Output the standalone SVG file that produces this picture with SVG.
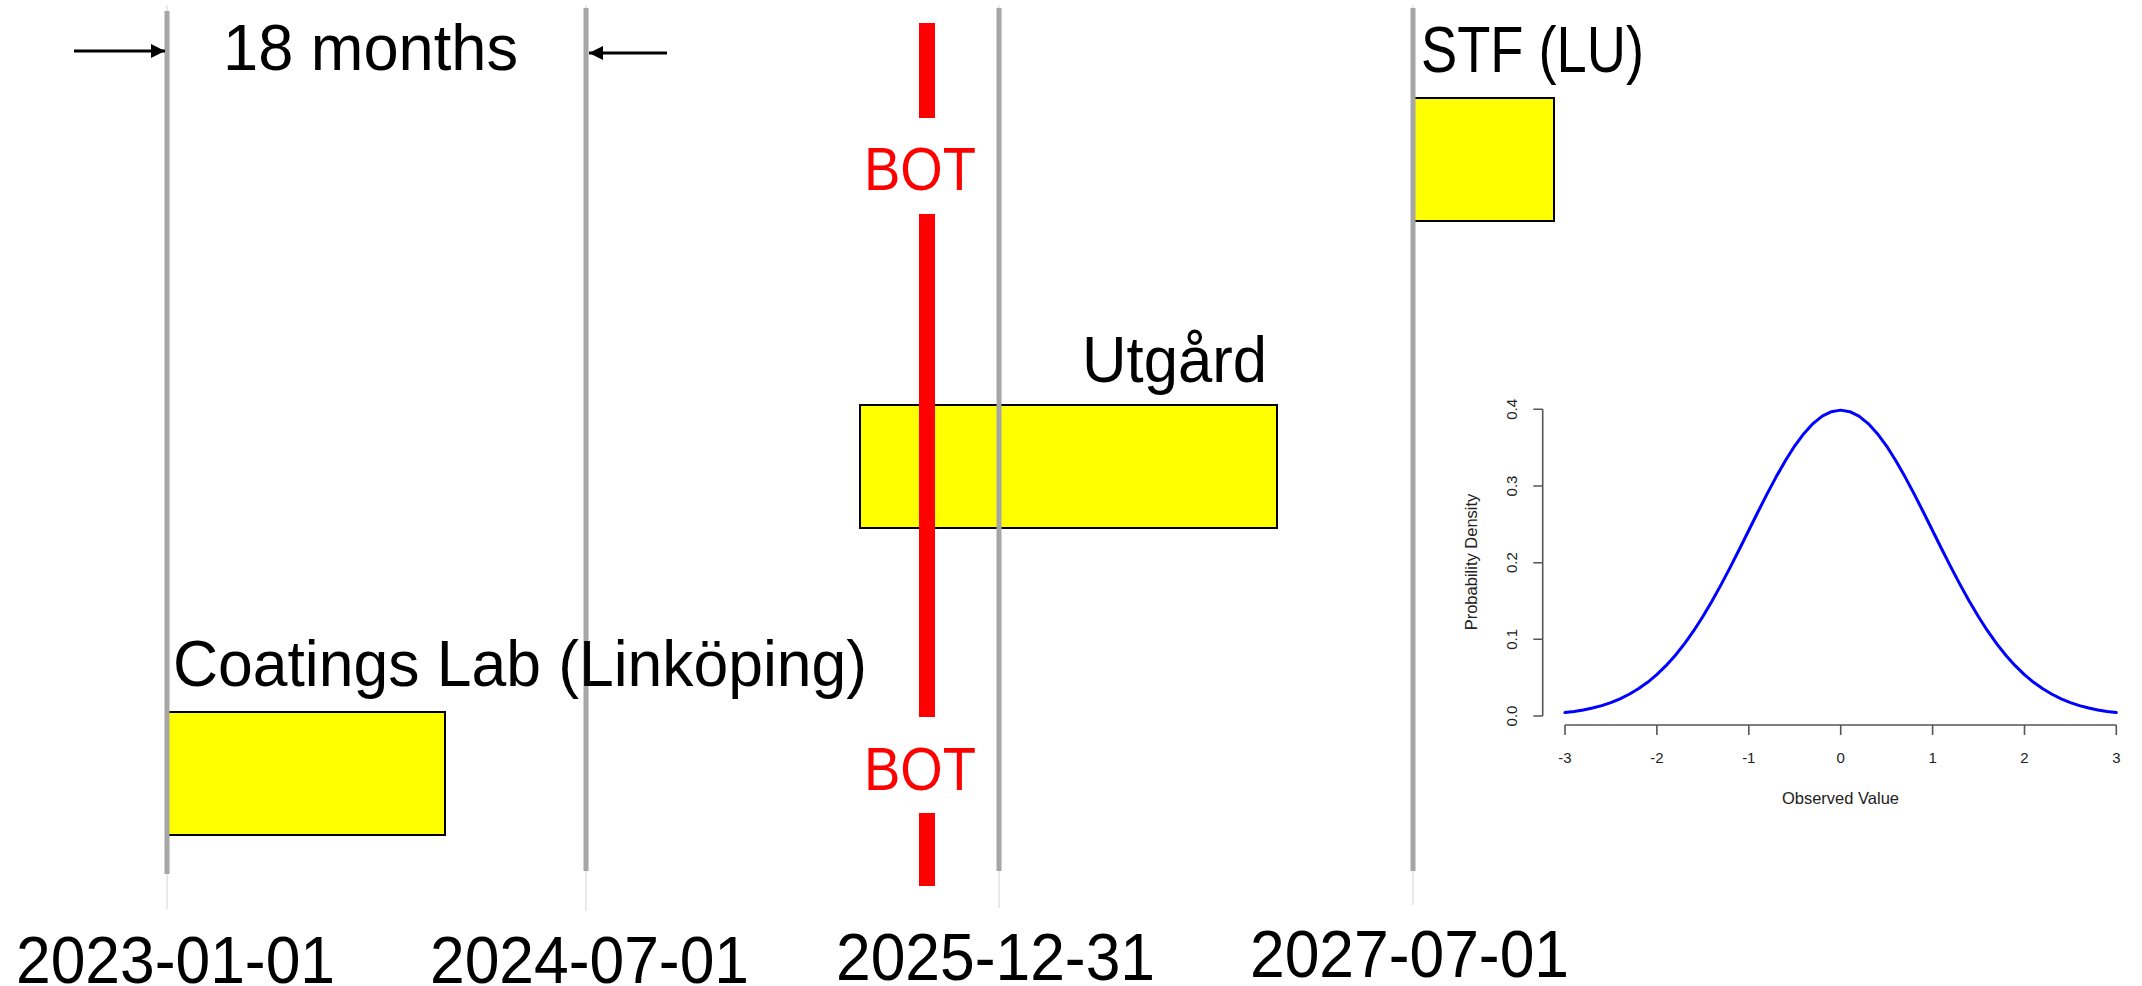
<svg xmlns="http://www.w3.org/2000/svg" width="2142" height="986" viewBox="0 0 2142 986">
<defs>
<style>
.lbl{font-family:"Liberation Sans",Arial,sans-serif;font-size:64px;fill:#000}
.date{font-family:"Liberation Sans",Arial,sans-serif;font-size:66px;fill:#000}
.bot{font-family:"Liberation Sans",Arial,sans-serif;font-size:62px;fill:#FF0000}
.box{fill:#FFFF00;stroke:#000;stroke-width:2}
.gl{stroke:#A6A6A6;stroke-width:5}
.thin{stroke:#DADADA;stroke-width:1.2}
.red{stroke:#FF0000;stroke-width:16}
.ax{stroke:#555;stroke-width:1.6;fill:none}
.tick{font-family:"Liberation Sans",Arial,sans-serif;font-size:15px;fill:#222}
.axl{font-family:"Liberation Sans",Arial,sans-serif;font-size:16.5px;fill:#222}
.arr{stroke:#000;stroke-width:3}
</style>
<marker id="ah" markerUnits="userSpaceOnUse" markerWidth="15" markerHeight="15" refX="14" refY="7" orient="auto">
<path d="M0,0 L14,7 L0,14 z" fill="#000"/>
</marker>
</defs>
<rect width="2142" height="986" fill="#fff"/>

<g id="boxes">
<g id="coatings-box"><rect class="box" x="168" y="712" width="277" height="123"/></g>
<g id="utgard-box"><rect class="box" x="860" y="405" width="417" height="123"/></g>
<g id="stf-box"><rect class="box" x="1414" y="98" width="140" height="123"/></g>
</g>

<g id="timeline-lines">
<line class="thin" x1="167" y1="5" x2="167" y2="909"/>
<line class="thin" x1="586" y1="5" x2="586" y2="911"/>
<line class="thin" x1="999" y1="5" x2="999" y2="908"/>
<line class="thin" x1="1413" y1="5" x2="1413" y2="905"/>
<line class="gl" x1="167" y1="11" x2="167" y2="874"/>
<line class="gl" x1="586" y1="8" x2="586" y2="871"/>
<line class="gl" x1="999" y1="8" x2="999" y2="871"/>
<line class="gl" x1="1413" y1="8" x2="1413" y2="871"/>
</g>

<g id="bot-line">
<line class="red" x1="927" y1="23" x2="927" y2="118"/>
<line class="red" x1="927" y1="214" x2="927" y2="717"/>
<line class="red" x1="927" y1="813" x2="927" y2="886"/>
<text class="bot" x="864" y="190" textLength="112" lengthAdjust="spacingAndGlyphs">BOT</text>
<text class="bot" x="864" y="790" textLength="112" lengthAdjust="spacingAndGlyphs">BOT</text>
</g>

<g id="coatings"><text class="lbl" x="173" y="686" textLength="694" lengthAdjust="spacingAndGlyphs">Coatings Lab (Linköping)</text></g>
<g id="utgard"><text class="lbl" x="1082" y="382" textLength="185" lengthAdjust="spacingAndGlyphs">Utgård</text></g>
<g id="stf"><text class="lbl" x="1421" y="72" textLength="223" lengthAdjust="spacingAndGlyphs">STF (LU)</text></g>
<g id="span-label"><text class="lbl" x="223" y="70" textLength="295" lengthAdjust="spacingAndGlyphs">18 months</text></g>

<g id="connectors">
<line class="arr" x1="74" y1="51" x2="165" y2="51" marker-end="url(#ah)"/>
<line class="arr" x1="667" y1="53" x2="589" y2="53" marker-end="url(#ah)"/>
</g>

<g id="dates">
<text class="date" x="16" y="983" textLength="319" lengthAdjust="spacingAndGlyphs">2023-01-01</text>
<text class="date" x="430" y="983" textLength="319" lengthAdjust="spacingAndGlyphs">2024-07-01</text>
<text class="date" x="836" y="980" textLength="319" lengthAdjust="spacingAndGlyphs">2025-12-31</text>
<text class="date" x="1250" y="977" textLength="319" lengthAdjust="spacingAndGlyphs">2027-07-01</text>
</g>

<g id="plot">
<path class="ax" d="M1542.7,409.3 V716 M1533.3,409.3 H1542.7 M1533.3,486 H1542.7 M1533.3,562.7 H1542.7 M1533.3,639.3 H1542.7 M1533.3,716 H1542.7"/>
<path class="ax" d="M1565,725 H2116.3 M1565,725 V735 M1656.9,725 V735 M1748.8,725 V735 M1840.7,725 V735 M1932.6,725 V735 M2024.5,725 V735 M2116.3,725 V735"/>
<g class="tick" text-anchor="middle">
<text transform="translate(1517,716) rotate(-90)">0.0</text>
<text transform="translate(1517,639.3) rotate(-90)">0.1</text>
<text transform="translate(1517,562.7) rotate(-90)">0.2</text>
<text transform="translate(1517,486) rotate(-90)">0.3</text>
<text transform="translate(1517,409.3) rotate(-90)">0.4</text>
<text x="1565" y="763">-3</text>
<text x="1656.9" y="763">-2</text>
<text x="1748.8" y="763">-1</text>
<text x="1840.7" y="763">0</text>
<text x="1932.6" y="763">1</text>
<text x="2024.5" y="763">2</text>
<text x="2116.3" y="763">3</text>
</g>
<text class="axl" x="1840.5" y="804" text-anchor="middle">Observed Value</text>
<text class="axl" transform="translate(1477,562) rotate(-90)" text-anchor="middle">Probability Density</text>
<polyline transform="translate(1840.6,716)" fill="none" stroke="#0000FF" stroke-width="3" stroke-linejoin="round" stroke-linecap="round"
points="-275.7,-3.40 -266.5,-4.56 -257.3,-6.07 -248.1,-7.99 -238.9,-10.41 -229.8,-13.44 -220.6,-17.17 -211.4,-21.72 -202.2,-27.20 -193.0,-33.72 -183.8,-41.39 -174.6,-50.31 -165.4,-60.53 -156.2,-72.11 -147.0,-85.04 -137.9,-99.30 -128.7,-114.80 -119.5,-131.39 -110.3,-148.88 -101.1,-167.03 -91.9,-185.52 -82.7,-204.01 -73.5,-222.11 -64.3,-239.40 -55.1,-255.48 -46.0,-269.93 -36.8,-282.35 -27.6,-292.41 -18.4,-299.81 -9.2,-304.34 0,-305.87 9.2,-304.34 18.4,-299.81 27.6,-292.41 36.8,-282.35 46.0,-269.93 55.1,-255.48 64.3,-239.40 73.5,-222.11 82.7,-204.01 91.9,-185.52 101.1,-167.03 110.3,-148.88 119.5,-131.39 128.7,-114.80 137.9,-99.30 147.0,-85.04 156.2,-72.11 165.4,-60.53 174.6,-50.31 183.8,-41.39 193.0,-33.72 202.2,-27.20 211.4,-21.72 220.6,-17.17 229.8,-13.44 238.9,-10.41 248.1,-7.99 257.3,-6.07 266.5,-4.56 275.7,-3.40"/>
</g>
</svg>
